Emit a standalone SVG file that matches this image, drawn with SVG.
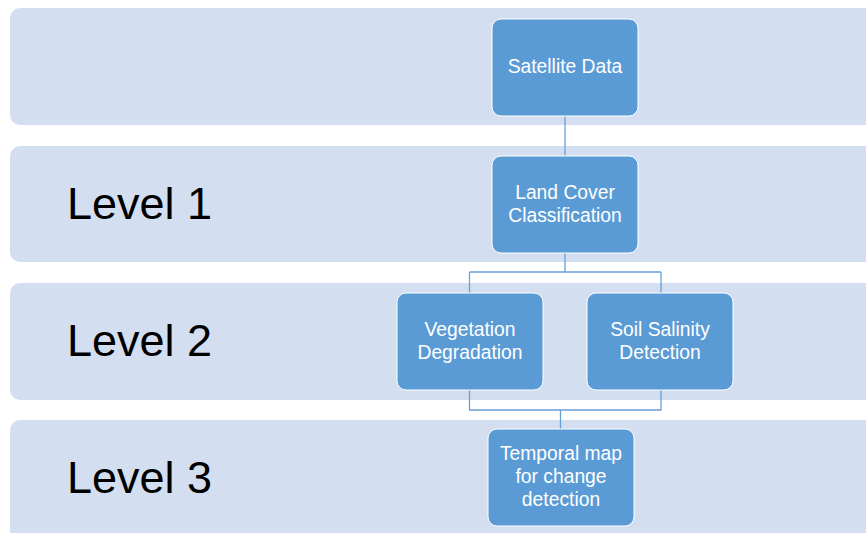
<svg xmlns="http://www.w3.org/2000/svg" width="866" height="533" viewBox="0 0 866 533">
<style>
.band{fill:#d3dff0;}
.node{fill:#5b9bd5;stroke:#ffffff;stroke-width:1;}
.nt{font-family:"Liberation Sans",Arial,sans-serif;font-size:19.3px;fill:#ffffff;text-anchor:middle;}
.lvl{font-family:"Liberation Sans",Arial,sans-serif;font-size:45px;fill:#000000;}
.conn{fill:none;stroke:#6a9fd3;stroke-width:1.3;}
</style>
<rect width="866" height="533" fill="#ffffff"/>
<g id="bands">
<rect class="band" x="10" y="8" width="870" height="117" rx="10"/>
<rect class="band" x="10" y="146" width="870" height="116" rx="10"/>
<rect class="band" x="10" y="283" width="870" height="117" rx="10"/>
<rect class="band" x="10" y="420" width="870" height="130" rx="10"/>
</g>
<g id="level-labels">
<text class="lvl" x="67" y="219">Level 1</text>
<text class="lvl" x="67" y="356">Level 2</text>
<text class="lvl" x="67" y="493">Level 3</text>
</g>
<g id="connectors">
<path class="conn" d="M565 115V156"/>
<path class="conn" d="M565 252V272M469.5 272H661M469.5 272V293M661 272V293"/>
<path class="conn" d="M469.5 389V410H661V389M560.5 410V429"/>
</g>
<g id="satellite-data">
<rect class="node" x="492" y="19" width="146" height="97" rx="9"/>
<text class="nt" x="565" y="73">Satellite Data</text>
</g>
<g id="land-cover">
<rect class="node" x="492" y="156" width="146" height="97" rx="9"/>
<text class="nt" x="565" y="198.5">Land Cover</text>
<text class="nt" x="565" y="221.5">Classification</text>
</g>
<g id="vegetation">
<rect class="node" x="397" y="293" width="146" height="97" rx="9"/>
<text class="nt" x="470" y="335.5">Vegetation</text>
<text class="nt" x="470" y="358.5">Degradation</text>
</g>
<g id="soil-salinity">
<rect class="node" x="587" y="293" width="146" height="97" rx="9"/>
<text class="nt" x="660" y="335.5">Soil Salinity</text>
<text class="nt" x="660" y="358.5">Detection</text>
</g>
<g id="temporal-map">
<rect class="node" x="488" y="429" width="146" height="97" rx="9"/>
<text class="nt" x="561" y="460">Temporal map</text>
<text class="nt" x="561" y="483">for change</text>
<text class="nt" x="561" y="506">detection</text>
</g>
</svg>
